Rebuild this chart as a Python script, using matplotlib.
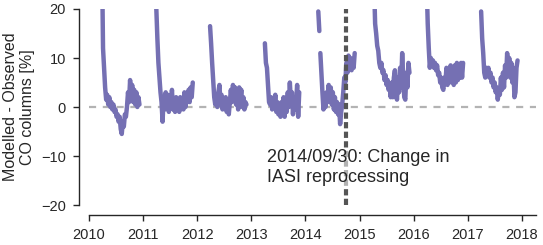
import numpy as np
import matplotlib
matplotlib.use("Agg")
import matplotlib.pyplot as plt

# Weekly samples (step = 1/52 yr) of each yearly observation period
step = 1.0 / 52.0
seg_starts = [2010.240, 2011.225, 2012.237, 2013.250, 2014.237, 2014.275,
              2015.268, 2016.240, 2017.246]
seg_values = [
    [30, 12, 8, 4, 1.5, 2.5, 0.5, 2, 0, 1, -0.5, 0.5, -1, -0.5, -2, -1.5, -3, -2,
     -4.5, -5.5, -3, -4, -1.5, -2, 0, 3, 1, 5.5, 2, 4.5, 1, 3.5, 0.5, 3, 0, 2, 0.5],
    [30, 20, 14, 9, 6, 3, 1, -3, 2, -0.5, 3, 0, 2.5, -1, 1.5, 0, 3.5, -0.5, 1, -1,
     2, 0.5, 1.5, -1, 2, 0, 1, -0.5, 3, 0, 2, 1, 3.5, 1, 4, 2, 5],
    [16.5, 13, 9, 5.5, 2, 0.5, 1.5, 0, 3, 4.5, 1, 2.5, -0.5, 1.5, 0, 2, -1, 0.5,
     -1.5, 1, 3.5, 1, 4.5, 2, 4, 0.5, 3, -0.5, 4, 1.5, 3.5, 0, 2, -0.5, 1, 0.5],
    [13, 9, 8, 4.5, 1, 0.5, 2, -0.5, 1.5, 0, 2.5, -1, 1, -1.5, 0, -2, 1, -1, 2, -2,
     1.5, -1, 3, 0, 5, 1, 3, -1.5, 2, -0.5, 1, 4.5, -2, 3],
    [19.5, 15.5],
    [11, 7, 3, -0.5, 2, 0, 3, 1, 4.5, 2, 4, 0.5, 3, -0.5, 2, -1, 1, -1.5, 0.5, -3.5,
     -1, 0.5, 3, 6, 5, 9, 7, 10.5, 8, 10, 7.5, 9.5, 8, 11],
    [25, 17, 15, 12.5, 11.5, 9, 8, 9, 7, 7.5, 5.5, 6.5, 4.5, 5.5, 3.5, 4.5, 2, 5, 2,
     6, 7.5, 3, 1.5, 6, 3, 8, 4, 11, 6, 2, 1.5, 7, 4, 9, 7],
    [25, 17, 12, 8, 10, 8.5, 9.5, 8, 9, 7.5, 8.5, 6.5, 7, 5, 6, 4, 3.5, 6, 5, 8, 4.5,
     7.5, 5, 8.5, 5.5, 8, 4.5, 8.5, 5, 9, 5.5, 8.5, 6, 9, 6, 9],
    [19.5, 14, 11, 7, 6, 8, 6.5, 8, 6, 7, 5, 6, 4, 5, 3, 4, 1.5, 3.5, 2.5, 6, 3.5, 7,
     4, 8.5, 6, 11, 7, 10, 6, 9, 5, 8, 2, 3, 8, 9.5],
]
change_date = 2014.748
annotation = "2014/09/30: Change in\nIASI reprocessing"
ylabel = "Modelled - Observed\nCO columns [%]"
xticks = [2010, 2011, 2012, 2013, 2014, 2015, 2016, 2017, 2018]
yticks = [-20, -10, 0, 10, 20]

plt.rcParams['font.family'] = ['Liberation Sans', 'DejaVu Sans']
txt = '#262626'

fig = plt.figure(figsize=(5.43, 2.45), dpi=100)
ax = fig.add_axes([89/543, 1 - 205/245, (536-89)/543, (205-9)/245])

ax.axhline(0, color='#b3b3b3', lw=1.6, dashes=(3.2, 3.0), zorder=1)
for s, v in zip(seg_starts, seg_values):
    v = np.asarray(v, dtype=float)
    t = s + step * np.arange(len(v))
    ax.plot(t, v, color='#7570b3', lw=3.2, solid_capstyle='round',
            solid_joinstyle='round', zorder=2)
ax.axvline(change_date, color='#555555', lw=3.0, dashes=(1.5, 0.8), zorder=3)
ax.text(2013.29, -8.6, annotation, fontsize=13, color=txt, va='top', ha='left',
        linespacing=1.2, zorder=4,
        bbox=dict(facecolor='white', edgecolor='none', alpha=0.55, pad=0))

ax.set_xlim(2010.0, 2018.26)
ax.set_ylim(-20, 20)
ax.set_xticks(xticks)
ax.set_xticklabels([str(x) for x in xticks])
ax.set_yticks(yticks)
ax.set_yticklabels([str(y).replace('-', '\u2212') for y in yticks])
ax.set_ylabel(ylabel, fontsize=11.5, color=txt, labelpad=4, linespacing=1.2)

for side in ['top', 'right']:
    ax.spines[side].set_visible(False)
for side in ['left', 'bottom']:
    ax.spines[side].set_position(('outward', 7.2))
    ax.spines[side].set_color(txt)
    ax.spines[side].set_linewidth(1.0)
ax.tick_params(axis='both', length=4.5, width=1.0, color=txt, labelcolor=txt,
               labelsize=10.5, direction='out', pad=5)
ax.set_facecolor('white')

fig.savefig('out.png', dpi=100, facecolor='white')
